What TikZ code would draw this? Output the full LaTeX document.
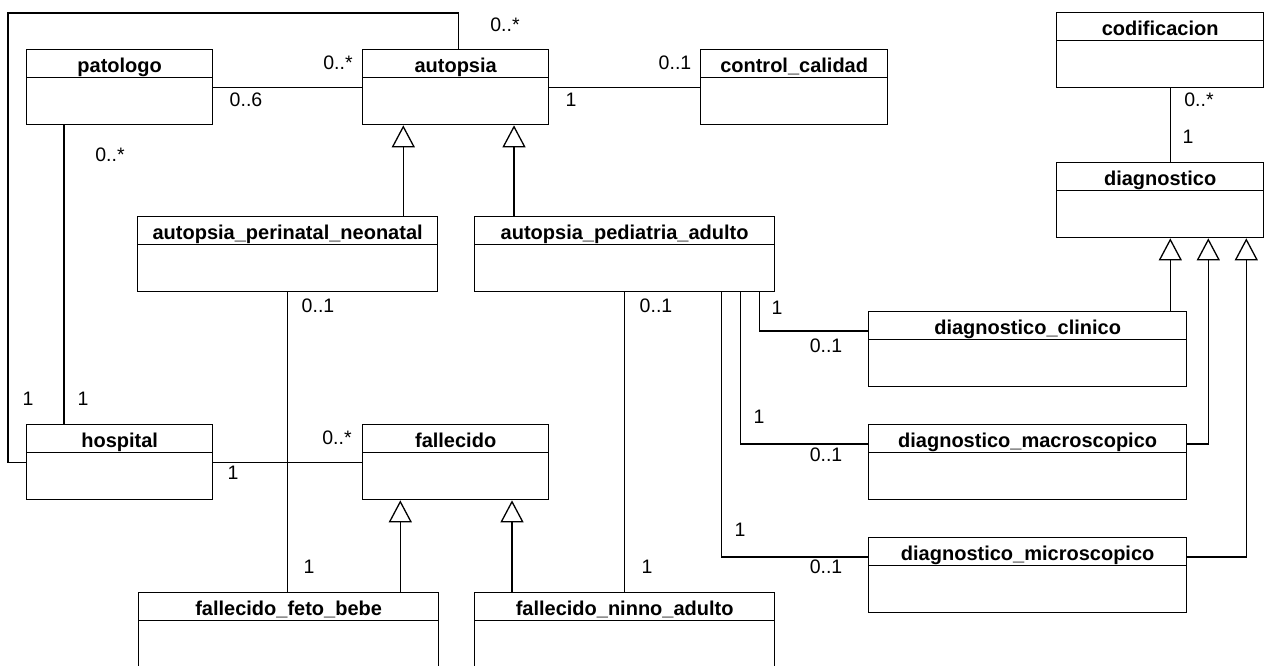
\documentclass[tikz,border=0pt]{standalone}
\usepackage{fontspec}
\setmainfont{Liberation Sans}
\usetikzlibrary{arrows.meta}

\begin{document}
\begin{tikzpicture}
      [ x=1pt, y=-1pt, line width=1.3pt,
        font=\fontsize{19.5}{22}\selectfont,
        umlclass/.style={draw, rectangle, anchor=north west, inner sep=0pt,
          minimum height=75pt,
          path picture={\draw ([yshift=-28pt]path picture bounding box.north west)
            -- ([yshift=-28pt]path picture bounding box.north east);},
          label={[anchor=base, yshift=-23pt, inner sep=0pt,
            font=\fontsize{20}{24}\selectfont\bfseries]north:#1}},
        mult/.style={inner sep=0pt},
        inherit/.style={-{Triangle[open, width=23pt, length=22pt]}}
      ]
      \useasboundingbox (0,0) rectangle (1265,665);
      \clip (0,0) rectangle (1265,665);

      % classes
      \node[umlclass=patologo, minimum width=186pt]                  (patologo)     at (26,49)   {};
      \node[umlclass=autopsia, minimum width=186pt]                  (autopsia)     at (362,49)  {};
      \node[umlclass=control\_calidad, minimum width=187pt]          (control)      at (700,49)  {};
      \node[umlclass=codificacion, minimum width=207pt]              (codificacion) at (1056,12) {};
      \node[umlclass=diagnostico, minimum width=207pt]               (diagnostico)  at (1056,162){};
      \node[umlclass=autopsia\_perinatal\_neonatal, minimum width=300pt] (perinatal) at (137,216) {};
      \node[umlclass=autopsia\_pediatria\_adulto, minimum width=300pt]   (pediatria) at (474,216) {};
      \node[umlclass=hospital, minimum width=186pt]                  (hospital)     at (26,424)  {};
      \node[umlclass=fallecido, minimum width=186pt]                 (fallecido)    at (362,424) {};
      \node[umlclass=fallecido\_feto\_bebe, minimum width=300pt]     (feto)         at (138,592) {};
      \node[umlclass=fallecido\_ninno\_adulto, minimum width=300pt]  (ninno)        at (474,592) {};
      \node[umlclass=diagnostico\_clinico, minimum width=318pt]      (clinico)      at (868,311) {};
      \node[umlclass=diagnostico\_macroscopico, minimum width=318pt] (macro)        at (868,424) {};
      \node[umlclass=diagnostico\_microscopico, minimum width=318pt] (micro)        at (868,537) {};

      % associations
      \draw (patologo) -- (autopsia);
      \draw (autopsia) -- (control);
      \draw ([xshift=10pt]codificacion.south) -- ([xshift=10pt]diagnostico.north);
      \draw ([xshift=38pt]patologo.south west) -- ([xshift=38pt]hospital.north west);
      \draw ([xshift=3pt]autopsia.north) -- ++(0,-36) -| ([xshift=-18pt]hospital.west) -- (hospital.west);
      \draw (hospital) -- (fallecido);
      \draw (perinatal.south) -- (perinatal.south |- feto.north);
      \draw (pediatria.south) -- (pediatria.south |- ninno.north);
      \draw ([xshift=-16pt]pediatria.south east) |- ([yshift=-20pt]clinico.north west);
      \draw ([xshift=-35pt]pediatria.south east) |- ([yshift=-20pt]macro.north west);
      \draw ([xshift=-54pt]pediatria.south east) |- ([yshift=-20pt]micro.north west);

      % generalizations
      \draw[inherit] ([xshift=-35pt]perinatal.north east) -- ([xshift=-35pt]perinatal.north east |- autopsia.south);
      \draw[inherit] ([xshift=40pt]pediatria.north west) -- ([xshift=40pt]pediatria.north west |- autopsia.south);
      \draw[inherit] ([xshift=-39pt]feto.north east) -- ([xshift=-39pt]feto.north east |- fallecido.south);
      \draw[inherit] ([xshift=38pt]ninno.north west) -- ([xshift=38pt]ninno.north west |- fallecido.south);
      \draw[inherit] ([xshift=-17pt]clinico.north east) -- ([xshift=-17pt]clinico.north east |- diagnostico.south);
      \draw[inherit] ([yshift=-20pt]macro.north east) -| ([xshift=-56pt]diagnostico.south east);
      \draw[inherit] ([yshift=-20pt]micro.north east) -| ([xshift=-18pt]diagnostico.south east);

      % multiplicities
      \node[mult] (mPatA)  at (246,100)  {0..6};
      \node[mult] (mAutP)  at (338,63)   {0..*};
      \node[mult] (mAutH)  at (505,25)   {0..*};
      \node[mult] (mAutC)  at (571,100)  {1};
      \node[mult] (mConA)  at (675,63)   {0..1};
      \node[mult] (mCodD)  at (1199,100) {0..*};
      \node[mult] (mDiaC)  at (1188,137) {1};
      \node[mult] (mPatH)  at (110,155)  {0..*};
      \node[mult] (mHosA)  at (28,399)   {1};
      \node[mult] (mHosP)  at (83,399)   {1};
      \node[mult] (mPerF)  at (318,306)  {0..1};
      \node[mult] (mPedN)  at (656,306)  {0..1};
      \node[mult] (mHosF)  at (233,473)  {1};
      \node[mult] (mFalH)  at (337,438)  {0..*};
      \node[mult] (mFetP)  at (309,567)  {1};
      \node[mult] (mNinP)  at (647,567)  {1};
      \node[mult] (mPedCl) at (777,308)  {1};
      \node[mult] (mCliP)  at (826,346)  {0..1};
      \node[mult] (mPedMa) at (759,417)  {1};
      \node[mult] (mMacP)  at (826,455)  {0..1};
      \node[mult] (mPedMi) at (740,530)  {1};
      \node[mult] (mMicP)  at (826,567)  {0..1};
    \end{tikzpicture}
\end{document}
